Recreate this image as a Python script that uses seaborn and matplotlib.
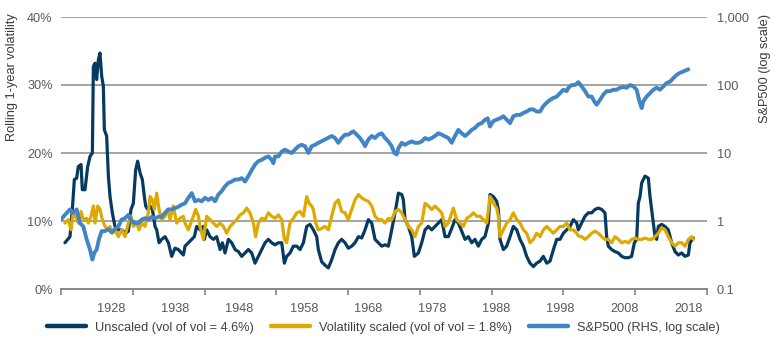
import numpy as np
import pandas as pd
import matplotlib
matplotlib.use("Agg")
import matplotlib.pyplot as plt
from matplotlib.lines import Line2D
from matplotlib.ticker import FixedLocator, FuncFormatter, NullLocator
import seaborn as sns

# ---------------- data ----------------
unscaled_year = [1928.05, 1928.75, 1929.08, 1929.36, 1929.68, 1929.91, 1930.29, 1930.47, 1930.84, 1931.22,
                 1931.54, 1931.87, 1932.01, 1932.24, 1932.47, 1932.70, 1932.93, 1933.17, 1933.40, 1933.54,
                 1933.86, 1934.10, 1934.33, 1934.65, 1935.02, 1935.49, 1935.95, 1936.51, 1936.88, 1937.25,
                 1937.58, 1937.90, 1938.18, 1938.51, 1938.83, 1939.11, 1939.30, 1939.58, 1939.90, 1940.23,
                 1940.60, 1940.83, 1941.16, 1941.53, 1941.99, 1942.46, 1942.92, 1943.38, 1943.85, 1944.55,
                 1944.78, 1945.24, 1945.71, 1946.08, 1946.40, 1946.87, 1947.33, 1947.47, 1947.80, 1948.26,
                 1948.73, 1949.19, 1949.66, 1949.98, 1950.35, 1950.82, 1951.28, 1951.75, 1952.21, 1952.68,
                 1953.14, 1953.60, 1954.07, 1954.53, 1955.00, 1955.46, 1955.93, 1956.39, 1956.85, 1957.32,
                 1957.78, 1958.25, 1958.62, 1958.94, 1959.41, 1959.87, 1960.34, 1960.80, 1961.27, 1961.73,
                 1962.19, 1962.66, 1963.12, 1963.35, 1963.82, 1964.28, 1964.75, 1965.21, 1965.68, 1966.14,
                 1966.60, 1967.07, 1967.53, 1968.00, 1968.46, 1968.93, 1969.39, 1969.86, 1970.32, 1970.79,
                 1971.25, 1971.71, 1972.18, 1972.64, 1973.11, 1973.48, 1973.94, 1974.27, 1974.50, 1974.97,
                 1975.20, 1975.43, 1975.89, 1976.36, 1976.73, 1977.29, 1977.75, 1978.22, 1978.68, 1979.15,
                 1979.61, 1980.07, 1980.54, 1981.00, 1981.47, 1981.93, 1982.39, 1982.86, 1983.32, 1983.79,
                 1984.25, 1984.72, 1985.18, 1985.64, 1986.11, 1986.57, 1987.04, 1987.27, 1987.73, 1988.20,
                 1988.43, 1988.66, 1989.13, 1989.59, 1990.06, 1990.52, 1990.99, 1991.45, 1991.92, 1992.38,
                 1992.84, 1993.31, 1993.77, 1994.24, 1994.70, 1995.17, 1995.63, 1996.10, 1996.56, 1997.02,
                 1997.49, 1997.95, 1998.42, 1998.88, 1999.35, 1999.57, 2000.04, 2000.50, 2000.97, 2001.43,
                 2001.90, 2002.36, 2002.82, 2003.29, 2003.52, 2003.75, 2004.22, 2004.68, 2005.15, 2005.61,
                 2006.08, 2006.54, 2007.00, 2007.38, 2007.70, 2007.93, 2008.17, 2008.40, 2008.86, 2009.33,
                 2009.56, 2009.79, 2010.02, 2010.26, 2010.49, 2010.72, 2011.18, 2011.65, 2012.11, 2012.58,
                 2013.04, 2013.51, 2013.97, 2014.44, 2014.90, 2015.13, 2015.60]
unscaled_vol = [6.8, 7.7, 11.7, 16.1, 16.3, 18.0, 18.3, 14.6, 14.6, 18.0,
                19.5, 20.0, 32.7, 33.2, 30.8, 33.7, 34.7, 31.3, 29.8, 23.4,
                22.5, 16.6, 13.6, 11.2, 9.2, 8.7, 8.7, 8.2, 8.5, 11.7,
                12.6, 17.5, 18.8, 17.1, 16.1, 13.6, 12.2, 11.7, 12.2, 11.7,
                9.2, 8.7, 6.8, 7.3, 7.7, 6.8, 4.8, 6.0, 5.8, 5.0,
                6.3, 6.8, 7.3, 7.7, 9.2, 8.7, 9.2, 7.3, 8.7, 7.7,
                7.3, 7.7, 5.8, 6.8, 5.3, 7.3, 6.8, 5.8, 5.5, 4.8,
                5.3, 5.8, 5.3, 3.8, 4.8, 5.8, 6.8, 7.3, 6.8, 6.5,
                6.8, 6.8, 3.8, 4.8, 5.3, 6.3, 6.3, 5.8, 6.8, 9.2,
                9.5, 8.7, 7.7, 5.8, 4.0, 3.5, 3.1, 4.3, 5.8, 6.8,
                7.3, 6.8, 6.0, 6.3, 6.8, 7.7, 7.5, 8.7, 10.2, 9.7,
                7.3, 6.8, 6.3, 6.5, 6.3, 8.2, 10.7, 12.6, 14.1, 13.9,
                13.1, 10.2, 9.2, 7.7, 4.8, 5.3, 6.8, 8.7, 9.2, 8.7,
                9.2, 9.7, 10.2, 7.7, 7.7, 8.9, 10.2, 9.7, 8.5, 7.3,
                7.7, 6.8, 7.3, 6.3, 7.3, 7.7, 9.7, 13.9, 13.6, 12.9,
                11.7, 7.3, 5.8, 6.3, 7.7, 9.2, 8.7, 7.3, 6.3, 4.8,
                3.8, 3.3, 3.8, 4.1, 4.8, 3.8, 4.1, 5.8, 7.3, 7.3,
                8.2, 8.7, 9.2, 10.2, 9.7, 8.7, 9.7, 10.7, 11.2, 11.2,
                11.7, 11.9, 11.7, 11.2, 7.7, 6.3, 5.8, 5.5, 5.3, 4.8,
                4.6, 4.6, 4.8, 6.8, 7.3, 12.6, 13.6, 15.6, 16.6, 16.3,
                13.6, 11.7, 9.7, 7.7, 7.3, 9.2, 9.5, 9.2, 8.7, 6.8,
                5.5, 5.0, 5.3, 4.8, 5.0, 6.8, 7.5]

scaled_year = [1928.05, 1928.52, 1928.89, 1929.22, 1929.54, 1929.91, 1930.29, 1930.61, 1931.07, 1931.31,
               1931.68, 1932.01, 1932.24, 1932.61, 1932.93, 1933.26, 1933.63, 1934.00, 1934.33, 1934.65,
               1935.02, 1935.49, 1935.95, 1936.42, 1936.88, 1937.25, 1937.58, 1938.04, 1938.37, 1938.74,
               1939.20, 1939.67, 1939.90, 1940.23, 1940.50, 1940.83, 1941.16, 1941.53, 1941.99, 1942.36,
               1942.69, 1943.15, 1943.61, 1944.08, 1944.55, 1944.78, 1945.24, 1945.94, 1946.26, 1946.64,
               1946.87, 1947.33, 1947.80, 1948.26, 1948.73, 1949.19, 1949.66, 1950.12, 1950.58, 1951.05,
               1951.51, 1951.98, 1952.44, 1952.91, 1953.37, 1953.83, 1954.30, 1954.62, 1955.00, 1955.46,
               1955.93, 1956.39, 1956.85, 1957.32, 1957.78, 1958.25, 1958.62, 1958.94, 1959.41, 1959.87,
               1960.34, 1960.80, 1961.27, 1961.73, 1962.06, 1962.43, 1962.66, 1962.99, 1963.35, 1963.82,
               1964.28, 1964.75, 1965.21, 1965.68, 1966.14, 1966.60, 1967.07, 1967.53, 1968.00, 1968.46,
               1968.93, 1969.39, 1969.86, 1970.32, 1970.79, 1971.25, 1971.71, 1972.18, 1972.64, 1973.11,
               1973.57, 1974.04, 1974.50, 1974.97, 1975.43, 1975.89, 1976.36, 1976.82, 1977.29, 1977.75,
               1978.22, 1978.68, 1979.15, 1979.61, 1980.07, 1980.54, 1981.00, 1981.47, 1981.93, 1982.16,
               1982.63, 1983.09, 1983.55, 1984.02, 1984.48, 1984.95, 1985.41, 1985.88, 1986.34, 1986.81,
               1987.04, 1987.27, 1987.73, 1988.20, 1988.43, 1988.66, 1989.13, 1989.59, 1990.06, 1990.52,
               1990.99, 1991.45, 1991.92, 1992.38, 1992.84, 1993.31, 1993.77, 1994.24, 1994.70, 1995.17,
               1995.63, 1996.10, 1996.56, 1997.02, 1997.49, 1997.95, 1998.42, 1998.88, 1999.35, 1999.57,
               2000.04, 2000.50, 2000.97, 2001.43, 2001.90, 2002.36, 2002.82, 2003.29, 2003.75, 2004.22,
               2004.68, 2005.15, 2005.61, 2006.08, 2006.54, 2007.00, 2007.47, 2007.93, 2008.40, 2008.86,
               2009.33, 2009.79, 2010.26, 2010.72, 2011.18, 2011.65, 2012.11, 2012.58, 2013.04, 2013.51,
               2013.97, 2014.44, 2014.90, 2015.37, 2015.60]
scaled_vol = [9.7, 10.2, 8.7, 11.2, 10.7, 9.7, 11.4, 10.2, 10.4, 9.7,
              10.7, 12.2, 9.7, 12.2, 11.7, 10.2, 9.2, 8.7, 9.2, 8.2,
              8.7, 7.7, 8.7, 7.7, 9.7, 10.7, 9.2, 9.7, 8.7, 9.7,
              9.2, 11.2, 13.6, 13.1, 11.7, 14.1, 11.7, 10.2, 10.7, 11.7,
              10.2, 12.2, 9.7, 10.4, 10.7, 9.7, 8.7, 10.7, 11.7, 10.7,
              9.2, 7.3, 10.7, 10.2, 9.7, 9.2, 9.7, 9.2, 8.2, 9.2,
              9.7, 10.2, 10.9, 11.2, 11.9, 11.2, 9.7, 7.7, 9.7, 10.4,
              10.2, 11.2, 10.7, 10.4, 10.9, 10.2, 7.3, 6.8, 9.7, 10.4,
              11.2, 11.4, 10.7, 13.6, 12.6, 12.2, 11.7, 9.7, 8.7, 8.9,
              9.2, 8.7, 10.7, 12.6, 13.1, 11.4, 11.2, 10.2, 11.7, 13.1,
              13.9, 13.4, 13.1, 12.9, 12.2, 10.7, 10.2, 10.2, 9.7, 10.4,
              10.2, 11.4, 11.7, 11.2, 10.2, 9.2, 8.7, 7.7, 9.2, 9.7,
              12.6, 12.2, 11.7, 12.2, 11.7, 11.2, 9.2, 9.7, 11.2, 11.9,
              10.2, 9.7, 9.2, 10.4, 10.7, 11.2, 10.7, 10.7, 10.2, 9.7,
              11.7, 13.6, 12.6, 11.9, 10.7, 7.7, 8.7, 9.7, 10.2, 11.2,
              10.2, 9.7, 8.7, 8.2, 6.8, 7.3, 8.2, 7.7, 8.7, 9.2,
              8.7, 8.2, 8.7, 9.2, 9.2, 9.7, 8.7, 8.7, 8.2, 7.8,
              7.7, 7.3, 7.7, 8.2, 8.5, 8.2, 7.7, 7.3, 7.3, 6.8,
              7.7, 7.3, 6.8, 7.0, 6.8, 7.3, 7.5, 7.3, 7.3, 7.5,
              7.3, 7.3, 7.7, 8.2, 9.0, 8.7, 7.7, 6.8, 6.3, 6.8,
              6.8, 6.3, 7.3, 7.7, 7.3]

sp_year = [1927.50, 1928.05, 1928.75, 1929.22, 1929.68, 1930.15, 1930.61, 1931.07, 1931.54, 1931.87,
           1932.14, 1932.47, 1932.79, 1933.17, 1933.63, 1934.10, 1934.56, 1935.02, 1935.49, 1935.95,
           1936.42, 1936.88, 1937.35, 1937.81, 1938.27, 1938.74, 1939.20, 1939.67, 1940.13, 1940.60,
           1941.06, 1941.53, 1941.99, 1942.46, 1942.92, 1943.38, 1943.85, 1944.31, 1944.78, 1945.24,
           1945.71, 1946.17, 1946.64, 1947.10, 1947.56, 1948.03, 1948.49, 1948.96, 1949.42, 1949.89,
           1950.35, 1950.82, 1951.28, 1951.75, 1952.21, 1952.68, 1953.14, 1953.60, 1954.07, 1954.53,
           1955.00, 1955.46, 1955.93, 1956.39, 1956.85, 1957.09, 1957.32, 1957.78, 1958.25, 1958.71,
           1959.18, 1959.64, 1960.10, 1960.57, 1961.03, 1961.50, 1961.96, 1962.43, 1962.89, 1963.35,
           1964.28, 1965.21, 1965.68, 1966.14, 1966.60, 1967.07, 1967.53, 1968.23, 1968.70, 1969.16,
           1969.62, 1969.86, 1970.32, 1970.79, 1971.25, 1971.71, 1972.18, 1972.64, 1973.11, 1973.57,
           1973.94, 1974.27, 1974.50, 1974.97, 1975.43, 1975.89, 1976.36, 1976.82, 1977.29, 1977.75,
           1978.22, 1978.68, 1979.15, 1979.61, 1980.07, 1980.54, 1981.00, 1981.46, 1981.93, 1982.39,
           1982.86, 1983.32, 1983.79, 1984.25, 1984.72, 1985.18, 1985.64, 1986.11, 1986.57, 1986.95,
           1987.27, 1987.73, 1988.20, 1988.66, 1989.13, 1989.59, 1990.06, 1990.52, 1990.99, 1991.45,
           1991.92, 1992.38, 1992.84, 1993.31, 1993.77, 1994.24, 1994.70, 1995.17, 1995.63, 1996.10,
           1996.56, 1997.02, 1997.49, 1997.95, 1998.19, 1998.65, 1999.11, 1999.58, 2000.04, 2000.51,
           2000.97, 2001.43, 2001.90, 2002.13, 2002.59, 2003.06, 2003.52, 2003.98, 2004.45, 2004.91,
           2005.38, 2005.84, 2006.31, 2006.77, 2007.24, 2007.70, 2008.03, 2008.40, 2008.63, 2009.09,
           2009.56, 2010.02, 2010.49, 2010.95, 2011.42, 2011.88, 2012.35, 2012.81, 2013.28, 2013.74,
           2014.20, 2014.67, 2014.90]
sp_index = [1.05, 1.23, 1.48, 1.32, 1.48, 0.93, 0.83, 0.54, 0.38, 0.27,
            0.34, 0.38, 0.54, 0.71, 0.71, 0.76, 0.68, 0.76, 0.83, 1.05,
            1.10, 1.23, 1.00, 0.93, 0.93, 1.05, 1.10, 1.05, 1.15, 1.10,
            1.15, 1.15, 1.32, 1.48, 1.48, 1.55, 1.62, 1.74, 1.82, 2.19,
            2.57, 1.95, 2.04, 1.95, 2.19, 2.04, 2.19, 1.95, 2.45, 2.75,
            3.24, 3.63, 3.80, 4.07, 4.07, 4.27, 3.80, 4.57, 5.62, 6.76,
            7.59, 7.94, 8.51, 8.91, 7.94, 7.08, 8.91, 8.91, 10.5, 11.2,
            10.5, 10.0, 11.2, 12.6, 13.2, 12.6, 10.0, 12.6, 13.2, 14.1,
            15.8, 17.8, 16.6, 14.1, 16.6, 18.6, 18.6, 20.9, 18.6, 16.6,
            14.1, 12.6, 15.8, 17.8, 16.6, 18.6, 19.5, 16.6, 14.8, 12.6,
            10.0, 9.5, 11.7, 14.1, 13.2, 14.1, 14.8, 14.1, 14.1, 14.8,
            16.6, 15.8, 16.6, 17.8, 19.5, 18.6, 17.6, 16.6, 14.1, 17.8,
            21.9, 19.5, 17.8, 19.5, 21.9, 23.4, 26.3, 27.5, 30.9, 32.4,
            24.5, 29.5, 30.9, 32.4, 34.7, 30.9, 27.5, 34.7, 36.3, 36.3,
            38.9, 40.7, 43.7, 43.7, 40.7, 40.7, 49.0, 55.0, 60.3, 64.6,
            67.6, 75.9, 85.1, 81.3, 91.2, 100.0, 100.0, 110.0, 95.5, 81.3,
            67.6, 67.6, 55.0, 51.3, 60.3, 72.4, 81.3, 81.3, 85.1, 85.1,
            91.2, 93.3, 91.2, 100.0, 95.5, 85.1, 60.3, 45.7, 57.5, 67.6,
            75.9, 85.1, 91.2, 85.1, 95.5, 107.0, 112.0, 126.0, 141.0, 151.0,
            158.0, 166.0, 170.0]

x_labels = ["1928", "1938", "1948", "1958", "1968", "1978", "1988", "1998", "2008", "2018"]
left_ticks = [0, 10, 20, 30, 40]
right_ticks = [0.1, 1, 10, 100, 1000]
right_tick_labels = ["0.1", "1", "10", "100", "1,000"]
series_names = ["Unscaled (vol of vol = 4.6%)",
                "Volatility scaled (vol of vol = 1.8%)",
                "S&P500 (RHS, log scale)"]

# ---------------- style ----------------
C_DARK = "#073a60"
C_GOLD = "#dea900"
C_BLUE = "#4285c5"
GRID = "#8a8a8a"
TXT = "#5a5a5a"

sns.set_theme(style="white")
plt.rcParams["font.family"] = ["Liberation Sans", "DejaVu Sans"]
plt.rcParams["font.size"] = 9.2

fig = plt.figure(figsize=(7.7, 3.47), dpi=100)
fig.subplots_adjust(left=61/770, right=707/770, top=1-17/347, bottom=1-289/347)
ax = fig.add_subplot(111)
ax2 = ax.twinx()

df_u = pd.DataFrame({"year": unscaled_year, "vol": unscaled_vol})
df_s = pd.DataFrame({"year": scaled_year, "vol": scaled_vol})
df_p = pd.DataFrame({"year": sp_year, "idx": sp_index})

sns.lineplot(data=df_u, x="year", y="vol", ax=ax, color=C_DARK, linewidth=2.3, legend=False)
sns.lineplot(data=df_s, x="year", y="vol", ax=ax, color=C_GOLD, linewidth=2.3, legend=False)
sns.lineplot(data=df_p, x="year", y="idx", ax=ax2, color=C_BLUE, linewidth=2.8, legend=False)

# x axis
x0, x1 = 1927.5, 2017.5
ax.set_xlim(x0, x1)
ax.xaxis.set_major_locator(FixedLocator(np.arange(x0, x1 + 0.1, 10)))
ax.xaxis.set_major_formatter(FuncFormatter(lambda v, p: ""))
lab_pos = 1934.5 + 8.94 * np.arange(len(x_labels))
ax.xaxis.set_minor_locator(FixedLocator(lab_pos))
ax.set_xticks(lab_pos, x_labels, minor=True)
ax.tick_params(axis="x", which="major", length=4.5, width=1.3, color=GRID, direction="out", bottom=True)
ax.tick_params(axis="x", which="minor", length=0, pad=10, labelsize=9.2, labelcolor=TXT, bottom=True)
ax.set_xlabel("")

# left axis
ax.set_ylim(0, 40)
ax.set_yticks(left_ticks, [f"{t}%" for t in left_ticks])
ax.tick_params(axis="y", length=0, pad=6, labelsize=9.2, labelcolor=TXT)
ax.yaxis.grid(True, color=GRID, linewidth=1.1)
ax.set_axisbelow(True)
ax.set_ylabel("Rolling 1-year volatility", color="#3a3a3a", fontsize=9.2)
ax.yaxis.set_label_coords(-0.0666, 0.78)

# right axis
ax2.set_yscale("log")
ax2.set_ylim(0.1, 1000)
ax2.yaxis.set_major_locator(FixedLocator(right_ticks))
ax2.yaxis.set_minor_locator(NullLocator())
ax2.set_yticklabels(right_tick_labels)
ax2.tick_params(axis="y", length=0, pad=7, labelsize=9.2, labelcolor=TXT)
ax2.set_ylabel("S&P500 (log scale)", color="#3a3a3a", fontsize=9.2)
ax2.yaxis.set_label_coords(1.0805, 0.81)
ax2.grid(False)

for a in (ax, ax2):
    for s in ("left", "right", "top"):
        a.spines[s].set_visible(False)
    a.spines["bottom"].set_color(GRID)
    a.spines["bottom"].set_linewidth(1.4)

# legend
handles = [Line2D([], [], color=C_DARK, linewidth=3.2),
           Line2D([], [], color=C_GOLD, linewidth=3.2),
           Line2D([], [], color=C_BLUE, linewidth=3.2)]
fig.legend(handles, series_names, loc="center", bbox_to_anchor=(0.498, 0.055), ncol=3,
           frameon=False, handlelength=3.1, handletextpad=0.7, columnspacing=1.3,
           fontsize=9.2, labelcolor="#404040")

fig.savefig("out.png", dpi=100)
